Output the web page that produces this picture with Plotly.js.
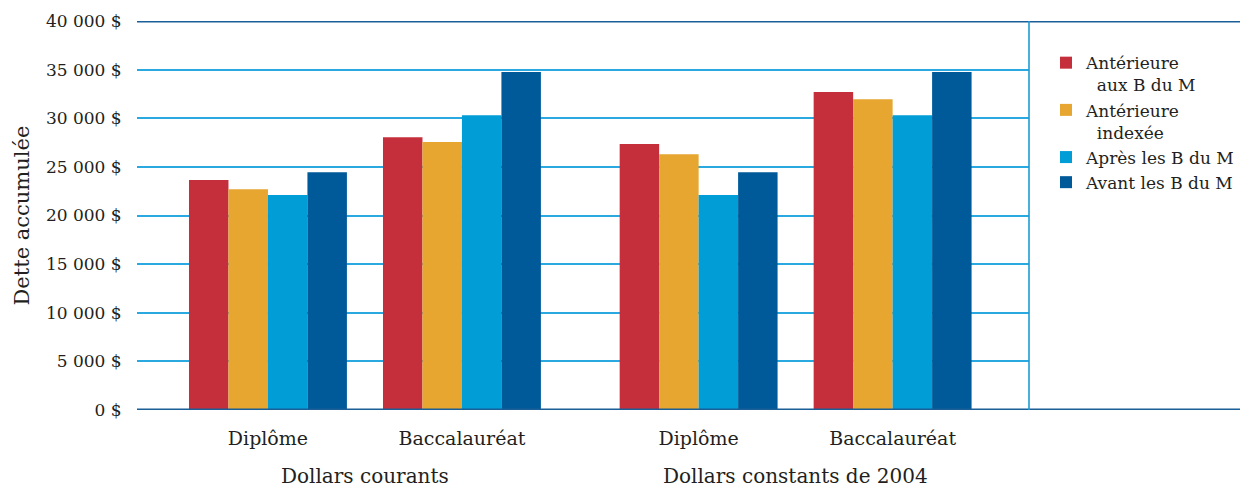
<!DOCTYPE html>
<html>
<head>
<meta charset="utf-8">
<script src="https://cdn.plot.ly/plotly-3.0.1.min.js"></script>
<style>html,body{margin:0;padding:0;background:#fff;overflow:hidden;}#chart{width:1240px;height:487px;}</style>
</head>
<body>
<div id="chart"></div>
<script>
// ---- data ----
const categories = ["Diplôme", "Baccalauréat", "Diplôme", "Baccalauréat"];
const groupLabels = ["Dollars courants", "Dollars constants de 2004"];
const yTitle = "Dette accumulée";
const seriesNames = ["Antérieure<br>\u00a0\u00a0aux B du M", "Antérieure<br>\u00a0\u00a0indexée", "Après les B du M", "Avant les B du M"];
const anterieureAuxBM = [23650, 28050, 27350, 32700];
const anterieureIndexee = [22700, 27550, 26300, 31950];
const apresBM = [22100, 30300, 22100, 30300];
const avantBM = [24450, 34750, 24450, 34750];
const yTickValues = [0, 5000, 10000, 15000, 20000, 25000, 30000, 35000, 40000];
const yTickLabels = ["0 $", "5 000 $", "10 000 $", "15 000 $", "20 000 $", "25 000 $", "30 000 $", "35 000 $", "40 000 $"];

// ---- layout helpers ----
const colors = ["#c42f3b", "#e6a630", "#009dd6", "#005a99"];
const groupGap = 0.22;
const xPos = categories.map((c, i) => i + (i >= 2 ? groupGap : 0));
const groupCenters = [(xPos[0] + xPos[1]) / 2, (xPos[2] + xPos[3]) / 2];
const values = [anterieureAuxBM, anterieureIndexee, apresBM, avantBM];

const font = "DejaVu Serif";
const textColor = "#231f20";

const traces = values.map((v, k) => ({
  type: "bar",
  name: seriesNames[k],
  x: xPos,
  y: v,
  marker: {color: colors[k], line: {width: 0}},
  hoverinfo: "y"
}));

const ml = 137, mr = 211, W = 1240;
const plotW = W - ml - mr;

const annotations = groupLabels.map((t, i) => ({
  text: t,
  x: groupCenters[i],
  xref: "x",
  y: -0.17,
  yref: "paper",
  xanchor: "center",
  yanchor: "middle",
  showarrow: false,
  font: {size: 20, family: font, color: textColor}
}));
annotations.push({
  text: yTitle,
  textangle: -90,
  x: (21 - ml) / plotW,
  xref: "paper",
  y: 0.5,
  yref: "paper",
  xanchor: "center",
  yanchor: "middle",
  showarrow: false,
  font: {size: 21, family: font, color: textColor}
});

const layout = {
  width: 1240,
  height: 487,
  margin: {l: ml, r: mr, t: 21, b: 77, autoexpand: false},
  paper_bgcolor: "#fff",
  plot_bgcolor: "#fff",
  barmode: "group",
  bargap: 0.186,
  bargroupgap: 0,
  font: {family: font, color: textColor},
  xaxis: {
    range: [-0.675, 3.923],
    tickvals: xPos,
    ticktext: categories,
    tickfont: {size: 19, family: font, color: textColor},
    ticks: "outside",
    ticklen: 11,
    tickcolor: "rgba(0,0,0,0)",
    showgrid: false,
    zeroline: false,
    showline: false,
    fixedrange: true
  },
  yaxis: {
    range: [0, 40000],
    tickvals: yTickValues,
    ticktext: yTickLabels,
    tickfont: {size: 17, family: font, color: textColor},
    ticks: "outside",
    ticklen: 11,
    tickcolor: "rgba(0,0,0,0)",
    showgrid: true,
    gridcolor: "#2aa8e0",
    gridwidth: 1.6,
    zeroline: false,
    showline: false,
    fixedrange: true
  },
  legend: {
    x: (1046 - ml) / plotW,
    xanchor: "left",
    y: 0.938,
    yanchor: "top",
    valign: "top",
    font: {size: 17, family: font, color: textColor},
    tracegroupgap: 0,
    itemclick: false,
    bgcolor: "rgba(0,0,0,0)"
  },
  showlegend: true,
  annotations: annotations,
  shapes: [
    {type: "line", xref: "paper", yref: "y", x0: 0, x1: (W - ml) / plotW, y0: 40000, y1: 40000, line: {color: "#1a5f97", width: 3}},
    {type: "line", xref: "paper", yref: "y", x0: 0, x1: (W - ml) / plotW, y0: 0, y1: 0, line: {color: "#1a5f97", width: 3}},
    {type: "line", xref: "paper", yref: "paper", x0: 1, x1: 1, y0: 0, y1: 1, line: {color: "#1b9bd7", width: 1.6}}
  ]
};

Plotly.newPlot("chart", traces, layout, {displayModeBar: false, staticPlot: false});
</script>
</body>
</html>
